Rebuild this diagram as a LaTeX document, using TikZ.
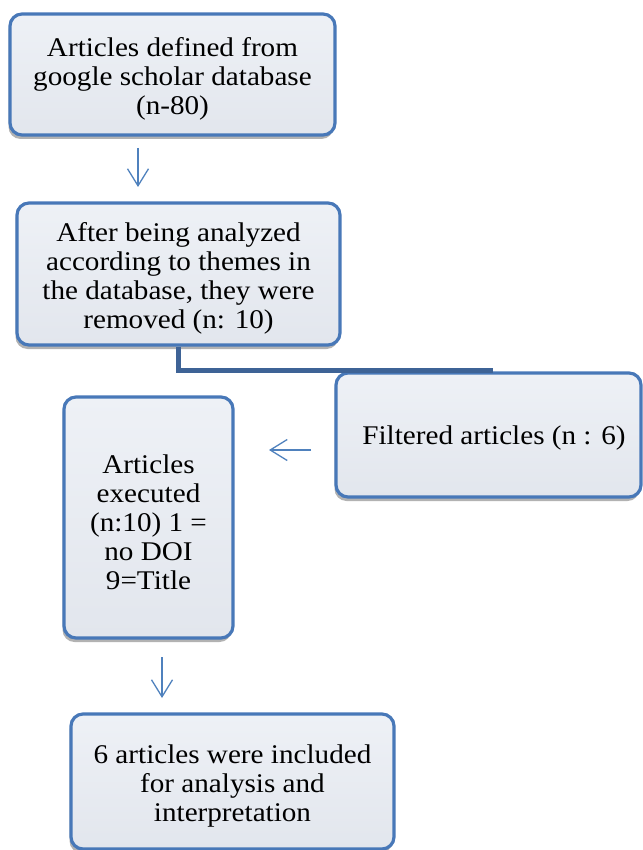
\documentclass[tikz,border=0pt]{standalone}
\usepackage{fontspec}
\setmainfont{Liberation Serif}[FakeStretch=1.08]
\newfontfamily\boxfont{Liberation Serif}[FakeStretch=1.08]
\usetikzlibrary{shadows,arrows.meta}
\definecolor{boxedge}{RGB}{72,120,184}
\definecolor{boxtop}{RGB}{238,241,246}
\definecolor{boxbot}{RGB}{226,230,237}
\definecolor{connblue}{RGB}{62,99,150}
\definecolor{arrowblue}{RGB}{79,129,189}
\tikzset{
  flowbox/.style={draw=boxedge, line width=3.2pt, rounded corners=12pt,
    top color=boxtop, bottom color=boxbot,
    drop shadow={shadow xshift=-1.5pt, shadow yshift=-4pt, fill=black, opacity=0.3},
    inner sep=0pt},
  boxtext/.style={align=center, inner sep=0pt, yshift=-4.5pt,
    font=\boxfont\fontsize{27pt}{29pt}\selectfont},
  thinarrow/.style={draw=arrowblue, line width=1.3pt,
    -{Straight Barb[length=17pt,width=21pt,line width=1.3pt]}},
  thickconn/.style={draw=connblue, line width=5pt}
}
\begin{document}
\begin{tikzpicture}[x=1pt,y=-1pt]
\useasboundingbox (0,0) rectangle (642,850);
\node[flowbox, minimum width=325pt, minimum height=121pt,
  label={[boxtext]center:Articles defined from\\google scholar database\\(n-80)}] (b1) at (172.5,74.5) {};
\node[flowbox, minimum width=323pt, minimum height=142pt,
  label={[boxtext]center:After being analyzed\\according to themes in\\the database, they were\\removed (n: 10)}] (b2) at (178.5,274) {};
\node[flowbox, minimum width=305pt, minimum height=124pt,
  label={[boxtext, xshift=5.5pt, yshift=1pt]center:Filtered articles (n : 6)}] (b3) at (488.5,435) {};
\node[flowbox, minimum width=169pt, minimum height=241pt,
  label={[boxtext]center:Articles\\executed\\(n:10) 1 =\\no DOI\\9=Title}] (b4) at (148.5,517.5) {};
\node[flowbox, minimum width=323pt, minimum height=135pt,
  label={[boxtext]center:6 articles were included\\for analysis and\\interpretation}] (b5) at (232.5,781.5) {};
% connector from b2 toward filtered box
\coordinate (c1) at (493,370);
\draw[thickconn] (b2.south) |- (c1);
% thin arrows
\coordinate (a1s) at (138,148);
\coordinate (a1e) at (138,187);
\draw[thinarrow] (a1s) -- (a1e);
\coordinate (a2s) at (311,450);
\coordinate (a2e) at (269,450);
\draw[thinarrow] (a2s) -- (a2e);
\coordinate (a3s) at (162,657);
\coordinate (a3e) at (162,698);
\draw[thinarrow] (a3s) -- (a3e);
\end{tikzpicture}
\end{document}
